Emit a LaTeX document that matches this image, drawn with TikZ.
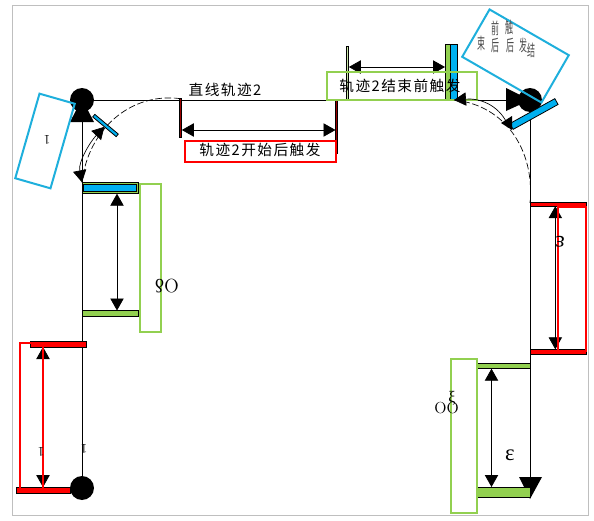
\documentclass[tikz,border=0pt]{standalone}
\usepackage{amsmath,amssymb}
\usepackage{fontspec}
\newfontfamily\cjk[LetterSpace=10]{Noto Sans CJK SC}
\newfontfamily\cjkplain{Noto Sans CJK SC}
\newfontfamily\greek{Liberation Serif}
\usetikzlibrary{arrows.meta}
\definecolor{lgreen}{RGB}{146,208,80}
\definecolor{lblue}{RGB}{30,175,220}
\definecolor{sblue}{RGB}{0,176,240}

\begin{document}
\begin{tikzpicture}[
  x=0.75pt, y=-0.75pt,
  track/.style={draw, line width=0.6pt},
  arr/.style={{Triangle[length=9pt,width=10pt]}-{Triangle[length=9pt,width=10pt]}, line width=0.6pt},
  dashcurve/.style={dash pattern=on 5pt off 2pt, line width=0.5pt},
  bar/.style={rectangle, draw, inner sep=0pt, outer sep=0pt, line width=0.6pt},
  redbar/.style={bar, fill=red},
  greenbar/.style={bar, fill=lgreen},
  bluebar/.style={bar, fill=sblue},
  redbox/.style={rectangle, draw=red, line width=1.5pt, inner sep=0pt, outer sep=0pt},
  greenbox/.style={rectangle, draw=lgreen, line width=1.5pt, inner sep=0pt, outer sep=0pt},
  bluebox/.style={rectangle, draw=lblue, line width=1.5pt, inner sep=0pt, outer sep=0pt},
  dot/.style={circle, fill=black, minimum size=18pt, inner sep=0pt},
  caption/.style={font=\cjk\fontsize{11pt}{12pt}\selectfont, inner sep=0pt},
  symbol/.style={font=\greek\fontsize{17pt}{18pt}\selectfont, inner sep=0pt},
]
  % Frame
  \useasboundingbox (0,0) rectangle (594,521);
  \node[rectangle, draw=black!25, line width=0.6pt, minimum width=432pt, minimum height=382.5pt, inner sep=0pt] (frame) at (300,260.5) {};

  % Track
  \coordinate (start) at (82,488);
  \coordinate (cornerA) at (82,100);
  \coordinate (cornerB) at (530,100);
  \coordinate (finish) at (530,478);
  \draw[track] (start) -- (cornerA) -- (cornerB) -- (finish);

  % Points
  \node[dot] (startdot) at (start) {};
  \node[dot] (dotA) at (cornerA) {};
  \node[dot] (dotB) at (cornerB) {};
  \fill (82,99) -- (94,122) -- (70,122) -- cycle;
  \fill (506,88) -- (530,100) -- (506,111) -- cycle;
  \fill (519,477) -- (542,477) -- (530,499) -- cycle;

  % Left side
  \node[redbar, minimum width=42pt, minimum height=4.5pt] (redtop) at (58,344) {};
  \node[redbar, minimum width=40.5pt, minimum height=5pt] (redlow) at (43,490.5) {};
  \draw[arr] (redlow.north |- redtop.south) -- (redlow.north);
  \node[redbox, minimum width=17.25pt, minimum height=110pt] (redleft) at (31.5,416.5) {};
  \node[bar, fill=lgreen, minimum width=42pt, minimum height=8.5pt] (greenA) at (110,188) {};
  \node[bluebar, minimum width=39.5pt, minimum height=5.5pt] (blueA) at (110,188) {};
  \node[greenbar, minimum width=42pt, minimum height=4.5pt] (greenB) at (110,313.5) {};
  \draw[arr] ([xshift=5.25pt]greenA.south) -- ([xshift=5.25pt]greenB.north);
  \node[greenbox, minimum width=15.5pt, minimum height=111pt] (boxA) at (150.5,258) {};

  % Top
  \node[bar, fill=red!60!black, minimum width=2pt, minimum height=29pt] (trigA) at (180.5,118) {};
  \node[bar, fill=red!60!black, minimum width=1.5pt, minimum height=40pt] (trigB) at (336.5,127) {};
  \coordinate (levelB) at (0,130);
  \draw[arr] (trigA.east |- levelB) -- (trigB.west |- levelB);
  \node[redbox, minimum width=113pt, minimum height=15.5pt] (boxB) at (260.5,151.5) {};
  \node[caption] (captionB) at (260,150) {轨迹2开始后触发};
  \node[caption] (captionT) at (225,90) {直线轨迹2};
  \node[bar, fill=lgreen!50, minimum width=2pt, minimum height=40.5pt] (trigC) at (347.5,73) {};
  \node[greenbar, minimum width=4.5pt, minimum height=42pt] (trigD) at (448,72) {};
  \node[bluebar, minimum width=5pt, minimum height=42pt] (trigE) at (454,72) {};
  \coordinate (levelC) at (0,67);
  \draw[arr] (trigC.east |- levelC) -- (trigD.west |- levelC);
  \node[greenbox, minimum width=112pt, minimum height=21pt] (boxC) at (402,86) {};
  \node[caption] (captionC) at (400,86) {轨迹2结束前触发};

  % Right side
  \node[redbar, minimum width=42pt, minimum height=2.5pt] (redC) at (558,204.5) {};
  \node[redbar, minimum width=42pt, minimum height=4pt] (redD) at (558,352) {};
  \draw[arr] ([xshift=-2pt]redC.south) -- ([xshift=-2pt]redD.north);
  \node[redbox, minimum width=21pt, minimum height=108pt] (boxF) at (572,278.5) {};
  \node[greenbar, minimum width=40pt, minimum height=4pt] (greenC) at (503.5,366) {};
  \node[greenbar, minimum width=40pt, minimum height=7.5pt] (greenD) at (503.5,492) {};
  \draw[arr] ([xshift=-9pt]greenC.south) -- ([xshift=-9pt]greenD.north);
  \node[greenbox, minimum width=19.5pt, minimum height=115pt] (boxG) at (464,436) {};

  % Tilted sensors
  \node[bluebar, rotate=-40, minimum width=23pt, minimum height=2.5pt] (sensorA) at (105.5,125.5) {};
  \node[bluebar, rotate=29, minimum width=38.5pt, minimum height=5pt] (sensorB) at (534,114) {};
  \node[bluebox, rotate=-16, minimum width=27.5pt, minimum height=66pt] (boxD) at (45,141) {};
  \node[bluebox, rotate=-30, minimum width=68.6pt, minimum height=41pt] (boxE) at (515.5,56) {};
  \foreach \txt/\px/\py in {束/481/43, 前/495/28, 后/495/45, 触/509/27, 后/510/45, 发/523/45, 结/531/50}
    \node[font=\cjkplain\fontsize{12pt}{12pt}\selectfont, inner sep=0pt, text=black!70, xscale=0.5] (glyph\px) at (\px,\py) {\txt};

  % Curved paths
  \coordinate (headB) at (507,123);
  \draw[dashcurve] (trigA.north) .. controls (130,92) and (88,130) .. (greenA.north west);
  \draw[arr, line width=0.5pt] (sensorA.south) .. controls (90,142) and (78,162) .. (greenA.north west);
  \draw[dashcurve] (trigE.south) .. controls (505,105) and (535,150) .. (redC.north west);
  \draw[{Triangle[length=9pt,width=10pt]}-, line width=0.5pt] (trigE.south) .. controls (480,98) and (498,105) .. (headB);
  \fill (501,123) -- (512,116) -- (512,130) -- cycle;

  % Labels
  \node[rotate=180] (labelA) at (41,452) {1};
  \node[rotate=180] (labelB) at (84,449) {1};
  \node[rotate=180] (labelH) at (47,140) {1};
  \node[font=\Large, rotate=180] (labelC) at (167,286) {O{\greek δ}};
  \node[symbol, rotate=180] (labelD) at (560,242) {ε};
  \node[symbol] (labelE) at (510,455) {ε};
  \node[font=\large] (labelF) at (446.5,408.5) {OO};
  \node[font=\greek\large] (labelG) at (452,398) {ξ};
\end{tikzpicture}
\end{document}
